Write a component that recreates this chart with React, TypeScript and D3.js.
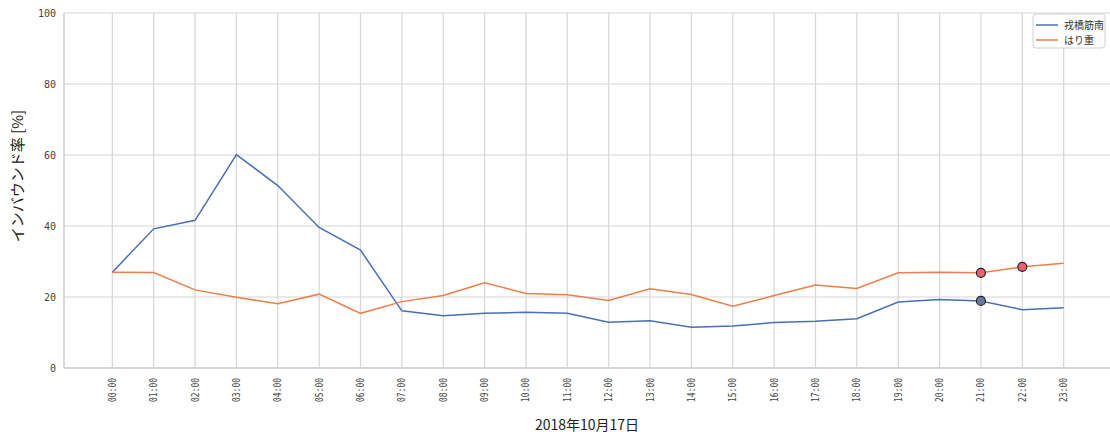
import { useEffect, useRef } from 'react'
import * as d3 from 'd3'

const hours = [
  '00:00', '01:00', '02:00', '03:00', '04:00', '05:00', '06:00', '07:00',
  '08:00', '09:00', '10:00', '11:00', '12:00', '13:00', '14:00', '15:00',
  '16:00', '17:00', '18:00', '19:00', '20:00', '21:00', '22:00', '23:00',
]

const seriesNames = ['戎橋筋南', 'はり重']
const seriesColors = ['#4a6fb5', '#ec7e4a']

const ebisubashi = [
  27.0, 39.2, 41.6, 60.1, 51.4, 39.6, 33.2, 16.1, 14.7, 15.4, 15.7, 15.4,
  12.9, 13.3, 11.5, 11.8, 12.8, 13.2, 13.9, 18.6, 19.3, 18.9, 16.4, 17.0,
]
const harijyu = [
  27.0, 26.9, 22.0, 19.9, 18.1, 20.8, 15.4, 18.7, 20.4, 24.0, 21.0, 20.6,
  19.0, 22.3, 20.7, 17.4, 20.4, 23.4, 22.4, 26.8, 27.0, 26.8, 28.5, 29.5,
]

// highlighted points: [series index, hour]
const highlights: [number, string][] = [
  [1, '21:00'],
  [1, '22:00'],
  [0, '21:00'],
]
const highlightFill = ['#667a9e', '#ee5f73']

const yTicks = [0, 20, 40, 60, 80, 100]

const W = 1110
const H = 437

const App = () => {
  const ref = useRef<SVGSVGElement>(null)

  useEffect(() => {
    const svg = d3.select(ref.current)
    svg.selectAll('*').remove()

    const margin = { top: 13, right: 0, bottom: 69, left: 64 }
    const x = d3
      .scalePoint<string>()
      .domain(hours)
      .range([margin.left + 2, W - margin.right])
      .padding(1.12)
    const y = d3
      .scaleLinear()
      .domain([0, 100])
      .range([H - margin.bottom, margin.top])

    const grid = svg.append('g')
    // horizontal grid
    grid
      .selectAll('line.h')
      .data(yTicks)
      .join('line')
      .attr('x1', margin.left)
      .attr('x2', W - margin.right)
      .attr('y1', (d) => y(d))
      .attr('y2', (d) => y(d))
      .attr('stroke', '#d6d6d6')
      .attr('stroke-width', 1.2)
    // vertical grid
    grid
      .selectAll('line.v')
      .data(hours)
      .join('line')
      .attr('x1', (d) => x(d)!)
      .attr('x2', (d) => x(d)!)
      .attr('y1', y(100))
      .attr('y2', y(0))
      .attr('stroke', '#d6d6d6')
      .attr('stroke-width', 1.2)
    // axis lines
    grid
      .append('line')
      .attr('x1', margin.left)
      .attr('x2', margin.left)
      .attr('y1', y(100))
      .attr('y2', y(0))
      .attr('stroke', '#cfcfcf')
      .attr('stroke-width', 1.5)
    grid
      .append('line')
      .attr('x1', margin.left)
      .attr('x2', W)
      .attr('y1', y(0))
      .attr('y2', y(0))
      .attr('stroke', '#cfcfcf')
      .attr('stroke-width', 1.5)

    // y tick labels
    svg
      .append('g')
      .selectAll('text')
      .data(yTicks)
      .join('text')
      .attr('x', margin.left - 8)
      .attr('y', (d) => y(d))
      .attr('dy', '0.35em')
      .attr('text-anchor', 'end')
      .attr('font-family', 'DejaVu Sans Mono, monospace')
      .attr('font-size', 10)
      .attr('fill', '#444')
      .text((d) => d)

    // x tick labels (rotated)
    svg
      .append('g')
      .selectAll('text')
      .data(hours)
      .join('text')
      .attr('transform', (d) => `translate(${x(d)! + 3.5},${y(0) + 10}) rotate(-90)`)
      .attr('text-anchor', 'end')
      .attr('font-family', 'DejaVu Sans Mono, monospace')
      .attr('font-size', 10)
      .attr('textLength', 24)
      .attr('lengthAdjust', 'spacingAndGlyphs')
      .attr('fill', '#444')
      .text((d) => d)

    // axis titles
    svg
      .append('text')
      .attr('x', (margin.left + W) / 2)
      .attr('y', 430)
      .attr('text-anchor', 'middle')
      .attr('font-family', 'Noto Sans CJK JP, sans-serif')
      .attr('font-size', 14)
      .attr('fill', '#222')
      .text('2018年10月17日')
    svg
      .append('text')
      .attr('transform', 'translate(23,176) rotate(-90)')
      .attr('text-anchor', 'middle')
      .attr('font-family', 'Noto Sans CJK JP, sans-serif')
      .attr('font-size', 15)
      .attr('fill', '#222')
      .text('インバウンド率 [%]')

    // lines
    const line = d3
      .line<number>()
      .x((_, i) => x(hours[i])!)
      .y((d) => y(d))
    ;[ebisubashi, harijyu].forEach((data, i) => {
      svg
        .append('path')
        .datum(data)
        .attr('fill', 'none')
        .attr('stroke', seriesColors[i])
        .attr('stroke-width', 1.5)
        .attr('d', line)
    })

    // highlighted markers
    const series = [ebisubashi, harijyu]
    svg
      .append('g')
      .selectAll('circle')
      .data(highlights)
      .join('circle')
      .attr('cx', (d) => x(d[1])!)
      .attr('cy', (d) => y(series[d[0]][hours.indexOf(d[1])]))
      .attr('r', 4.5)
      .attr('fill', (d) => highlightFill[d[0]])
      .attr('stroke', '#222')
      .attr('stroke-width', 1.2)

    // legend
    const lg = svg.append('g').attr('transform', 'translate(1033,14)')
    lg.append('rect')
      .attr('width', 72)
      .attr('height', 34)
      .attr('rx', 3)
      .attr('fill', '#fff')
      .attr('stroke', '#d0d0d0')
    seriesNames.forEach((name, i) => {
      const row = lg.append('g').attr('transform', `translate(0,${11 + i * 15})`)
      row
        .append('line')
        .attr('x1', 3)
        .attr('x2', 25)
        .attr('stroke', seriesColors[i])
        .attr('stroke-width', 1.5)
      row
        .append('text')
        .attr('x', 31)
        .attr('dy', '0.35em')
        .attr('font-family', 'Noto Sans CJK JP, sans-serif')
        .attr('font-size', 10)
        .attr('fill', '#333')
        .text(name)
    })
  }, [])

  return (
    <svg
      ref={ref}
      width={W}
      height={H}
      style={{ position: 'absolute', left: 0, top: 0, background: '#fff' }}
    />
  )
}

export default App
